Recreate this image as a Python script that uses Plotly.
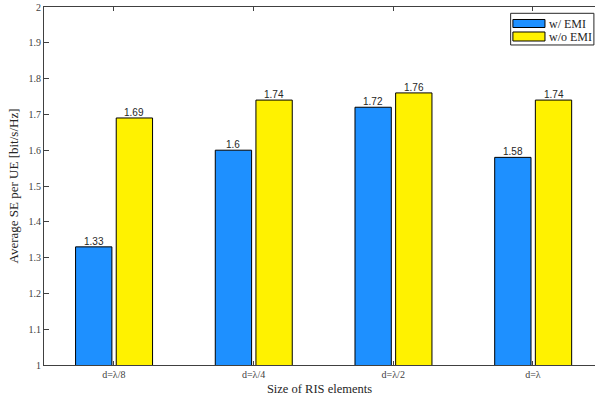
import plotly.graph_objects as go

categories = ["d=λ/8", "d=λ/4", "d=λ/2", "d=λ"]
with_emi = [1.33, 1.6, 1.72, 1.58]
without_emi = [1.69, 1.74, 1.76, 1.74]
series_names = ["w/ EMI", "w/o EMI"]
y_ticks = [1, 1.1, 1.2, 1.3, 1.4, 1.5, 1.6, 1.7, 1.8, 1.9, 2]

BLUE = "#1E90FF"
YELLOW = "#FFF200"
xpos = [1, 2, 3, 4]
BAR_W = 0.26
OFFSETS = [-0.274, 0.017]

fig = go.Figure()
for vals, col, off, nm in zip([with_emi, without_emi], [BLUE, YELLOW], OFFSETS, series_names):
    fig.add_trace(go.Bar(
        x=xpos, y=vals, base=0, width=BAR_W, offset=off,
        marker=dict(color=col, line=dict(color="black", width=1)),
        name=nm, showlegend=False,
    ))
    for xv, v in zip(xpos, vals):
        fig.add_annotation(x=xv + off + BAR_W / 2, y=v, text=f"{v:g}", showarrow=False,
                           xanchor="center", yanchor="bottom", yshift=-2,
                           font=dict(family="Liberation Sans, Arial", size=10, color="#262626"))

axis_col = "#404040"
fig.update_layout(
    width=595, height=400,
    margin=dict(l=44, r=0, t=7, b=35),
    paper_bgcolor="white", plot_bgcolor="white",
    barmode="overlay",
    font=dict(family="Liberation Serif, Times New Roman, serif", color="#262626"),
    xaxis=dict(
        range=[0.5, 4.444], tickmode="array", tickvals=xpos, ticktext=categories,
        ticks="inside", ticklen=4, tickcolor=axis_col, showline=True, linecolor=axis_col,
        linewidth=1, mirror="ticks", showgrid=False, zeroline=False,
        tickfont=dict(size=10, color="#404040"),
        title=dict(text="Size of RIS elements", font=dict(size=12.5, color="#262626"), standoff=5),
    ),
    yaxis=dict(
        range=[1, 2], tickmode="array", tickvals=y_ticks,
        ticktext=[f"{v:g}" for v in y_ticks],
        ticks="inside", ticklen=5, tickcolor=axis_col, showline=True, linecolor=axis_col,
        linewidth=1, mirror=False, showgrid=False, zeroline=False,
        tickfont=dict(size=10, color="#404040"),
        title=dict(text="Average SE per UE [bit/s/Hz]", font=dict(size=13, color="#262626"), standoff=6),
    ),
)

# Legend drawn in paper coordinates
shapes = [
    dict(type="rect", xref="paper", yref="paper", x0=0.8469, x1=0.998, y0=0.8939, y1=0.9824,
         line=dict(color="#262626", width=1), fillcolor="white"),
    dict(type="rect", xref="paper", yref="paper", x0=0.851, x1=0.9092, y0=0.9427, y1=0.9651,
         line=dict(color="black", width=1), fillcolor=BLUE),
    dict(type="rect", xref="paper", yref="paper", x0=0.851, x1=0.9092, y0=0.905, y1=0.9302,
         line=dict(color="black", width=1), fillcolor=YELLOW),
]
fig.update_layout(shapes=shapes)
for name, yy in zip(series_names, [0.9525, 0.9162]):
    fig.add_annotation(xref="paper", yref="paper", x=0.9137, y=yy, text=name, showarrow=False,
                       xanchor="left", yanchor="middle",
                       font=dict(family="Liberation Serif, Times New Roman, serif", size=12, color="#262626"))

fig.write_html("out.html", config={"displayModeBar": False},
               post_script="document.body.style.margin='0';document.body.style.overflow='hidden';")
